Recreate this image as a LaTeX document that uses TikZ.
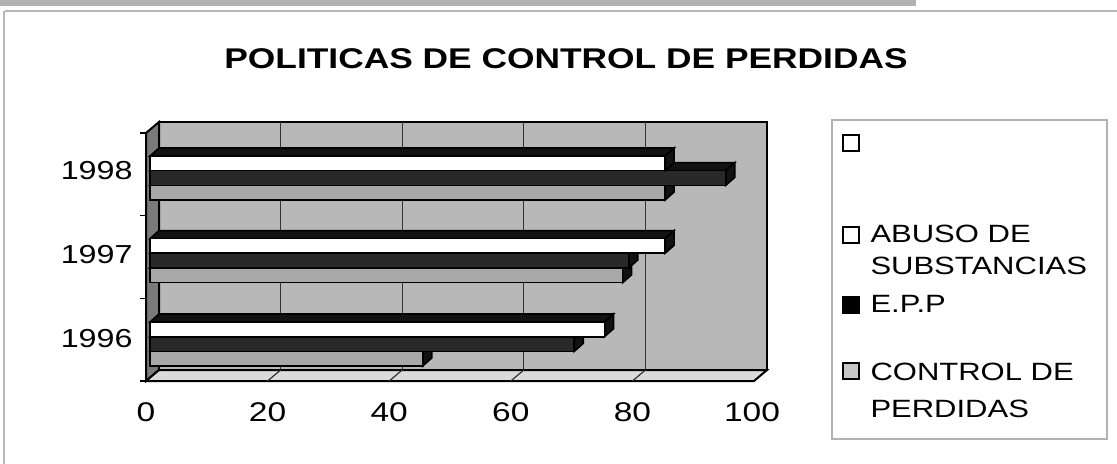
\documentclass[tikz,border=0pt]{standalone}
\usepackage{fontspec}
\setmainfont{Liberation Sans}
\definecolor{wallgrey}{gray}{0.72}
\definecolor{sidegrey}{gray}{0.48}
\definecolor{floorgrey}{gray}{0.86}
\definecolor{darkbar}{gray}{0.16}
\definecolor{greybar}{gray}{0.66}
\definecolor{barside}{gray}{0.07}
\definecolor{framegrey}{gray}{0.72}
\newcommand\chartbar[4]{%
  \pgfmathsetmacro\xe{150+6.06*#3}%
  \filldraw[barline, fill=barside] (150,#1) -- (159,#1-8) -- (\xe+9,#1-8) -- (\xe,#1) -- cycle;
  \filldraw[barline, fill=barside] (\xe,#1) -- (\xe+9,#1-8) -- (\xe+9,#2-8) -- (\xe,#2) -- cycle;
  \filldraw[barline, fill=#4] (150,#1) rectangle (\xe,#2);
}
\tikzset{
  barline/.style={draw=black, line width=0.8pt, line join=miter},
  wallline/.style={draw=black, line width=1pt},
  gridl/.style={draw=black!80, line width=0.6pt},
  txt/.style={inner sep=0pt, xscale=1.24},
  titletxt/.style={txt, font=\fontsize{14.25pt}{17pt}\selectfont\bfseries},
  axtxt/.style={txt, font=\fontsize{13.5pt}{16pt}\selectfont},
  cattxt/.style={txt, font=\fontsize{13pt}{16pt}\selectfont},
  legtxt/.style={txt, font=\fontsize{12.5pt}{16.5pt}\selectfont, align=left},
  legbox/.style={draw=black, line width=0.9pt},
}
\begin{document}
\begin{tikzpicture}[x=0.5pt,y=-0.5pt]
\useasboundingbox (0,0) rectangle (1117,464);
% page decoration
\fill[gray!60] (0,0) rectangle (916,6);
\draw[gray!55, line width=0.6pt] (5,11) -- (1117,11);
\draw[framegrey, line width=0.6pt] (4,11) -- (4,464);
% title
\node[titletxt, anchor=base] (title) at (566,69) {POLITICAS DE CONTROL DE PERDIDAS};
% walls
\filldraw[wallline, fill=wallgrey] (159,122) rectangle (767,370);
\foreach \k in {1,2,3,4} \draw[gridl] (159+121.6*\k,122) -- (159+121.6*\k,370);
\filldraw[wallline, fill=sidegrey] (146,133) -- (159,122) -- (159,370) -- (146,381) -- cycle;
\filldraw[wallline, fill=floorgrey] (146,381) -- (159,370) -- (767,370) -- (754,381) -- cycle;
\foreach \k in {1,2,3,4} \draw[gridl] (146+121.6*\k,381) -- (159+121.6*\k,370);
\foreach \y in {133,215.7,298.3,381} \draw[black, line width=0.6pt] (140,\y) -- (146,\y);
% bars 1998
\chartbar{185.4}{200}{85}{greybar}
\chartbar{170.7}{185.4}{95}{darkbar}
\chartbar{156}{170.7}{85}{white}
% bars 1997
\chartbar{268}{282.7}{78}{greybar}
\chartbar{253.3}{268}{79}{darkbar}
\chartbar{238.6}{253.3}{85}{white}
% bars 1996
\chartbar{351.4}{366}{45}{greybar}
\chartbar{336.7}{351.4}{70}{darkbar}
\chartbar{322}{336.7}{75}{white}
% category labels
\node[cattxt, anchor=base east] (c98) at (133,180) {1998};
\node[cattxt, anchor=base east] (c97) at (133,264) {1997};
\node[cattxt, anchor=base east] (c96) at (133,347) {1996};
% axis labels
\node[axtxt, anchor=base] (a0) at (146,421) {0};
\node[axtxt, anchor=base] (a20) at (267.6,421) {20};
\node[axtxt, anchor=base] (a40) at (389.2,421) {40};
\node[axtxt, anchor=base] (a60) at (510.8,421) {60};
\node[axtxt, anchor=base] (a80) at (632.4,421) {80};
\node[axtxt, anchor=base] (a100) at (752,421) {100};
% legend
\draw[gray!60, line width=0.6pt, fill=white] (832,120) rectangle (1107,439);
\filldraw[legbox, line width=1.3pt, fill=white] (843,135) rectangle (859,151);
\filldraw[legbox, fill=white] (843,227) rectangle (859,243);
\filldraw[legbox, fill=black] (843,297) rectangle (859,313);
\filldraw[legbox, fill=gray!45] (843,363) rectangle (859,379);
\node[legtxt, anchor=base west] (l1) at (870,243) {ABUSO DE};
\node[legtxt, anchor=base west] (l1b) at (870,275) {SUBSTANCIAS};
\node[legtxt, anchor=base west] (l2) at (870,313) {E.P.P};
\node[legtxt, anchor=base west] (l3) at (870,380) {CONTROL DE};
\node[legtxt, anchor=base west] (l3b) at (870,417) {PERDIDAS};
\end{tikzpicture}
\end{document}
